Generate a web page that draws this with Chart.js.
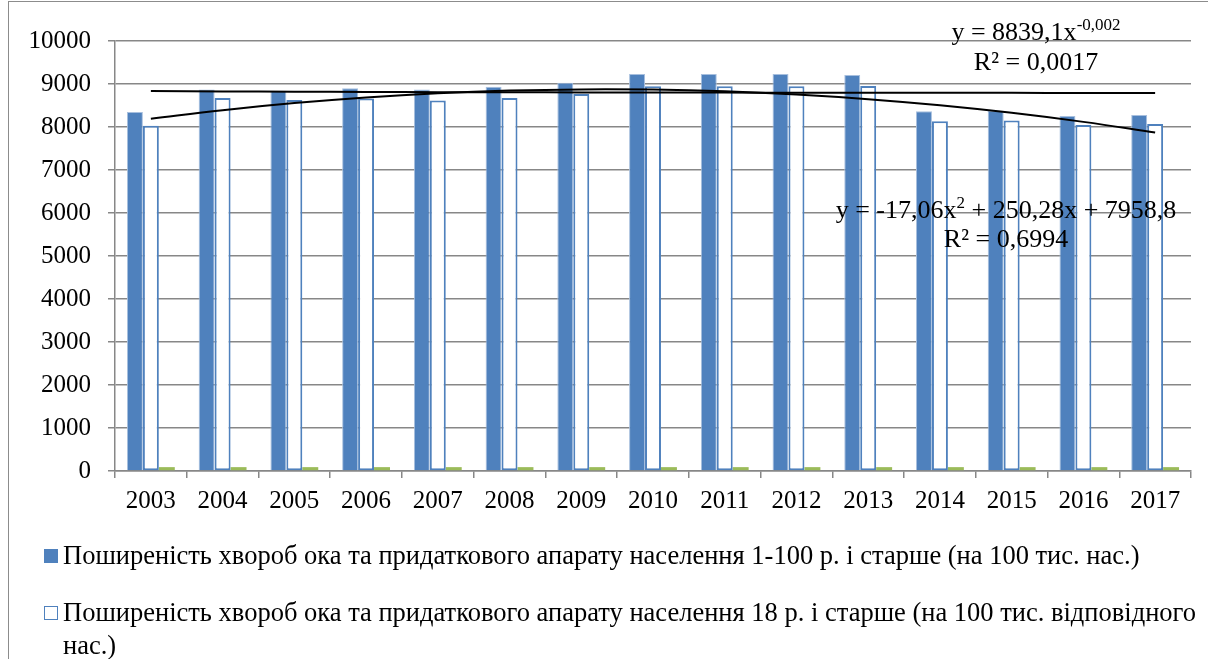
<!DOCTYPE html>
<html>
<head>
<meta charset="utf-8">
<script src="https://cdn.jsdelivr.net/npm/chart.js@4/dist/chart.umd.min.js"></script>
<style>
  html, body { margin: 0; padding: 0; background: #fff; }
  #wrap { position: relative; width: 1208px; height: 659px; overflow: hidden; font-family: 'Liberation Serif', 'Times New Roman', serif; color: #000; }
  #frame { position: absolute; left: 8px; top: 1px; width: 1300px; height: 800px; border: 1.5px solid #8c8c8c; box-sizing: border-box; }
  canvas { position: absolute; left: 0; top: 0; }
  .eq { position: absolute; font-size: 26px; line-height: 30px; white-space: nowrap; transform: translateX(-50%); }
  .eq sup { font-size: 17px; line-height: 0; vertical-align: 0; position: relative; top: -10px; }
  .leg { position: absolute; left: 44px; width: 1164px; display: flex; align-items: flex-start; font-size: 26.5px; line-height: 33px; }
  .leg .mk { flex: none; width: 14px; height: 14px; margin-top: 10px; margin-right: 5px; box-sizing: border-box; }
</style>
</head>
<body>
<div id="wrap">
  <div id="frame"></div>
  <canvas id="c" width="1208" height="659"></canvas>
  <div id="eq1a" class="eq" style="left:1036px; top:17px;"></div>
  <div id="eq1b" class="eq" style="left:1036px; top:47px;"></div>
  <div id="eq2a" class="eq" style="left:1006px; top:195px;"></div>
  <div id="eq2b" class="eq" style="left:1006px; top:224px;"></div>
  <div id="legend"></div>
</div>
<script>
// ---- data ----
const years = ['2003','2004','2005','2006','2007','2008','2009','2010','2011','2012','2013','2014','2015','2016','2017'];
const prevalenceAll = [8346, 8875, 8845, 8900, 8875, 8938, 9030, 9230, 9230, 9230, 9207, 8369, 8380, 8254, 8277];
const prevalenceAdult = [8030, 8677, 8630, 8660, 8615, 8677, 8770, 8945, 8950, 8950, 8955, 8131, 8150, 8046, 8069];
const thirdSeries = [90, 90, 90, 90, 90, 90, 90, 90, 90, 90, 90, 90, 90, 90, 90];
// trendline values as drawn (power and 2nd-order polynomial trendlines of the first series)
const powerTrend = [8839.1, 8826.9, 8819.7, 8814.6, 8810.7, 8807.5, 8804.8, 8802.4, 8800.3, 8798.5, 8796.8, 8795.3, 8793.9, 8792.6, 8791.4];
const polyTrend = [8192.0, 8391.1, 8556.1, 8687.0, 8783.7, 8846.3, 8874.8, 8869.2, 8829.5, 8755.6, 8647.6, 8505.5, 8329.3, 8119.0, 7874.5];
const yTicks = [0, 1000, 2000, 3000, 4000, 5000, 6000, 7000, 8000, 9000, 10000];
const labelAll = 'Поширеність хвороб ока та придаткового апарату населення 1-100 р. і старше (на 100 тис. нас.)';
const labelAdult = 'Поширеність хвороб ока та придаткового апарату населення 18 р. і старше (на 100 тис. відповідного нас.)';
const eqPower = ['y = 8839,1x', '-0,002', 'R² = 0,0017'];
const eqPoly = ['y = -17,06x', '2', ' + 250,28x + 7958,8', 'R² = 0,6994'];

// ---- styling ----
const BLUE = '#4F81BD';
const GREEN = '#9BBB59';
const GRID = '#878787';
const FONT = "'Liberation Serif', 'Times New Roman', serif";

document.getElementById('eq1a').innerHTML = eqPower[0] + '<sup>' + eqPower[1] + '</sup>';
document.getElementById('eq1b').textContent = eqPower[2];
document.getElementById('eq2a').innerHTML = eqPoly[0] + '<sup>' + eqPoly[1] + '</sup>' + eqPoly[2];
document.getElementById('eq2b').textContent = eqPoly[3];

const legendItems = [
  { text: labelAll, fill: BLUE, border: BLUE, top: 539 },
  { text: labelAdult, fill: '#fff', border: BLUE, top: 596 }
];
const legendEl = document.getElementById('legend');
legendItems.forEach(it => {
  const row = document.createElement('div');
  row.className = 'leg';
  row.style.top = it.top + 'px';
  const mk = document.createElement('span');
  mk.className = 'mk';
  mk.style.background = it.fill;
  mk.style.border = '1.5px solid ' + it.border;
  const tx = document.createElement('span');
  tx.textContent = it.text;
  row.appendChild(mk);
  row.appendChild(tx);
  legendEl.appendChild(row);
});

new Chart(document.getElementById('c'), {
  data: {
    labels: years,
    datasets: [
      { type: 'line', label: 'power', data: powerTrend, borderColor: '#000', borderWidth: 2, pointRadius: 0, tension: 0.4, fill: false, order: 0 },
      { type: 'line', label: 'poly', data: polyTrend, borderColor: '#000', borderWidth: 2, pointRadius: 0, tension: 0.4, fill: false, order: 0 },
      { type: 'bar', label: labelAll, data: prevalenceAll, backgroundColor: BLUE, borderColor: '#A7BFDE', borderWidth: 1, order: 1 },
      { type: 'bar', label: labelAdult, data: prevalenceAdult, backgroundColor: '#fff', borderColor: BLUE, borderWidth: 2, borderSkipped: false, order: 1 },
      { type: 'bar', label: 'third', data: thirdSeries, backgroundColor: GREEN, borderWidth: 0, order: 1 }
    ]
  },
  options: {
    responsive: false,
    animation: false,
    devicePixelRatio: 1,
    layout: { padding: { left: 0, top: 41, right: 17, bottom: 138 } },
    datasets: { bar: { categoryPercentage: 0.667, barPercentage: 1.0 } },
    plugins: { legend: { display: false }, tooltip: { enabled: false }, title: { display: false } },
    scales: {
      x: {
        offset: true,
        grid: { offset: true, drawOnChartArea: false, drawTicks: true, tickLength: 7, color: GRID, lineWidth: 1.5 },
        border: { display: true, color: GRID, width: 1.5 },
        ticks: { color: '#000', font: { family: FONT, size: 25 }, padding: 8, maxRotation: 0, autoSkip: false },
        afterFit: s => { s.height = 50; }
      },
      y: {
        min: 0, max: 10000,
        afterBuildTicks: s => { s.ticks = yTicks.map(v => ({ value: v })); },
        grid: { color: GRID, lineWidth: 1.5, tickLength: 7 },
        border: { display: true, color: GRID, width: 1.5 },
        ticks: { color: '#000', font: { family: FONT, size: 25 }, padding: 17, callback: v => String(v) },
        afterFit: s => { s.width = 115; }
      }
    }
  }
});
</script>
</body>
</html>
